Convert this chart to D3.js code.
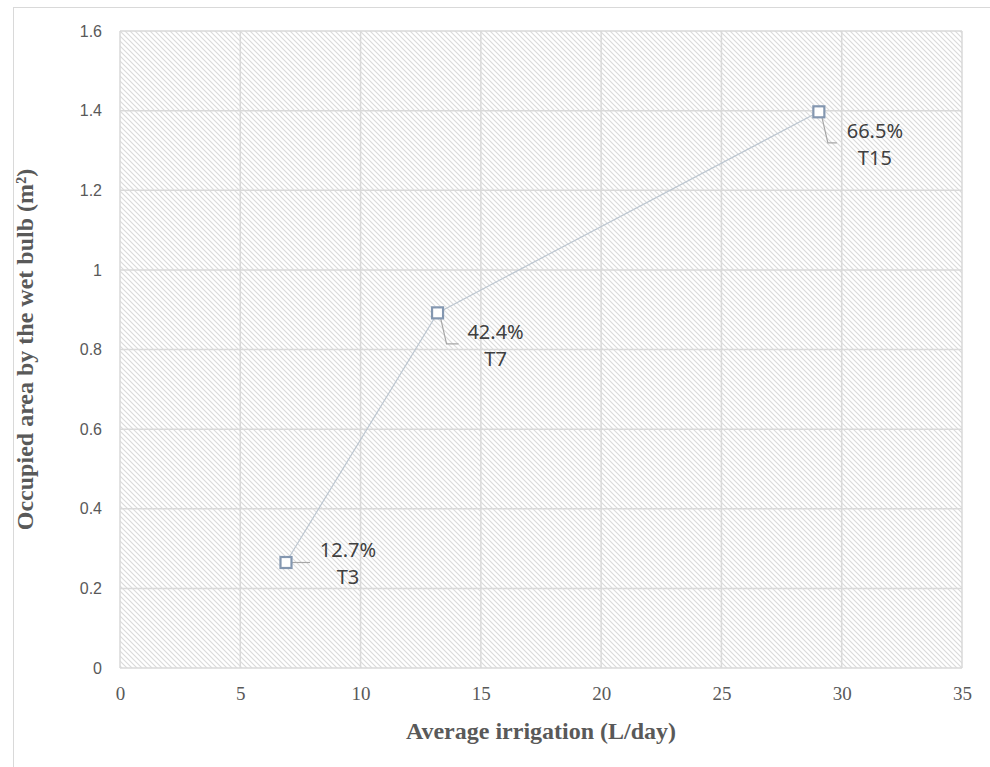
<!DOCTYPE html>
<html>
<head>
<meta charset="utf-8">
<script src="https://cdn.jsdelivr.net/npm/d3@7"></script>
<style>
  body { margin: 0; background: #fff; }
</style>
</head>
<body>
<div id="chart"></div>
<script>
// values
var names = ["T3", "T7", "T15"];
var irrigation = [6.9, 13.2, 29.05];
var area = [0.265, 0.892, 1.397];
var shares = ["12.7%", "42.4%", "66.5%"];
var xTicks = [0, 5, 10, 15, 20, 25, 30, 35];
var yTicks = [0, 0.2, 0.4, 0.6, 0.8, 1, 1.2, 1.4, 1.6];

var margin = {top: 31, right: 28, bottom: 99, left: 120},
    width = 990 - margin.left - margin.right,
    height = 767 - margin.top - margin.bottom;

var svg = d3.select("#chart")
  .append("svg")
    .attr("width", 990)
    .attr("height", 767);

// outer chart frame
svg.append("rect")
    .attr("x", 13.5)
    .attr("y", 7.5)
    .attr("width", 990)
    .attr("height", 790)
    .attr("fill", "none")
    .attr("stroke", "#d9d9d9")
    .attr("stroke-width", 1);

var defs = svg.append("defs");
var pat = defs.append("pattern")
    .attr("id", "hatch")
    .attr("patternUnits", "userSpaceOnUse")
    .attr("width", 5)
    .attr("height", 5);
pat.append("rect").attr("width", 5).attr("height", 5).attr("fill", "#fff");
pat.append("path")
    .attr("d", "M-1,-1 L6,6 M-1,4 L1,6 M4,-1 L6,1")
    .attr("stroke", "#dadada")
    .attr("stroke-width", 1.1);

var g = svg.append("g")
    .attr("transform", "translate(" + margin.left + "," + margin.top + ")");

var x = d3.scaleLinear().domain([0, 35]).range([0, width]);
var y = d3.scaleLinear().domain([0, 1.6]).range([height, 0]);

g.append("rect")
    .attr("width", width)
    .attr("height", height)
    .attr("fill", "url(#hatch)");

// gridlines
g.append("g").selectAll("line")
  .data(yTicks)
  .enter().append("line")
    .attr("x1", 0).attr("x2", width)
    .attr("y1", function(d) { return y(d); })
    .attr("y2", function(d) { return y(d); })
    .attr("stroke", "#d9d9d9")
    .attr("stroke-width", 1.5);

g.append("g").selectAll("line")
  .data(xTicks)
  .enter().append("line")
    .attr("y1", 0).attr("y2", height)
    .attr("x1", function(d) { return x(d); })
    .attr("x2", function(d) { return x(d); })
    .attr("stroke", "#d9d9d9")
    .attr("stroke-width", 1.5);

// axes (labels only)
var xAxis = g.append("g")
    .attr("transform", "translate(0," + height + ")")
    .call(d3.axisBottom(x).tickValues(xTicks).tickSize(0).tickPadding(19).tickFormat(d3.format("d")));
xAxis.select(".domain").remove();
xAxis.selectAll("text")
    .attr("fill", "#595959")
    .style("font-family", "'Liberation Serif', 'DejaVu Serif', serif")
    .style("font-size", "19px");

var yAxis = g.append("g")
    .call(d3.axisLeft(y).tickValues(yTicks).tickSize(0).tickPadding(18).tickFormat(function(d) { return d3.format("")(+d.toFixed(1)); }));
yAxis.select(".domain").remove();
yAxis.selectAll("text")
    .attr("fill", "#595959")
    .style("font-family", "'Liberation Sans', Arial, sans-serif")
    .style("font-size", "16px");

// axis titles
svg.append("text")
    .attr("x", margin.left + width / 2)
    .attr("y", 739)
    .attr("text-anchor", "middle")
    .attr("font-weight", 700)
    .attr("fill", "#595959")
    .style("font-family", "'Liberation Serif', 'DejaVu Serif', serif")
    .style("font-size", "24px")
    .text("Average irrigation (L/day)");

svg.append("text")
    .attr("transform", "translate(" + 33 + "," + (margin.top + height / 2) + ") rotate(-90)")
    .attr("text-anchor", "middle")
    .attr("font-weight", 700)
    .attr("fill", "#595959")
    .style("font-family", "'Liberation Serif', 'DejaVu Serif', serif")
    .style("font-size", "24px")
    .text("Occupied area by the wet bulb (m²)");

var data = names.map(function(n, i) {
  return {name: n, x: irrigation[i], y: area[i], share: shares[i]};
});

g.append("path")
    .datum(data)
    .attr("fill", "none")
    .attr("stroke", "#bcc6d0")
    .attr("stroke-width", 1.2)
    .attr("d", d3.line().x(function(d) { return x(d.x); }).y(function(d) { return y(d.y); }));

// leader lines, label offsets
var lab = [
  {dx: 62, leader: [[6, 0], [24, 0]]},
  {dx: 58, leader: [[3, 5], [9, 31], [21, 31]]},
  {dx: 56, leader: [[3, 5], [9, 31], [18, 31]]}
];

data.forEach(function(d, i) {
  var px = x(d.x), py = y(d.y);
  g.append("path")
      .attr("d", d3.line()(lab[i].leader.map(function(p) { return [px + p[0], py + p[1]]; })))
      .attr("fill", "none")
      .attr("stroke", "#a6a6a6")
      .attr("stroke-width", 1.2);
  var t = g.append("text")
      .attr("x", px + lab[i].dx)
      .attr("text-anchor", "middle")
      .attr("fill", "#404040")
      .style("font-family", "'Noto Sans', 'Open Sans', sans-serif")
      .style("font-size", "20px");
  var baseY = i == 0 ? py - 5 : py + 26;
  t.append("tspan").attr("x", px + lab[i].dx).attr("y", baseY).text(d.share);
  t.append("tspan").attr("x", px + lab[i].dx).attr("y", baseY + 27).text(d.name);
});

g.append("g").selectAll("rect")
  .data(data)
  .enter().append("rect")
    .attr("x", function(d) { return x(d.x) - 5.5; })
    .attr("y", function(d) { return y(d.y) - 5.5; })
    .attr("width", 11)
    .attr("height", 11)
    .attr("fill", "#fff")
    .attr("stroke", "#8497b0")
    .attr("stroke-width", 2.2);
</script>
</body>
</html>
